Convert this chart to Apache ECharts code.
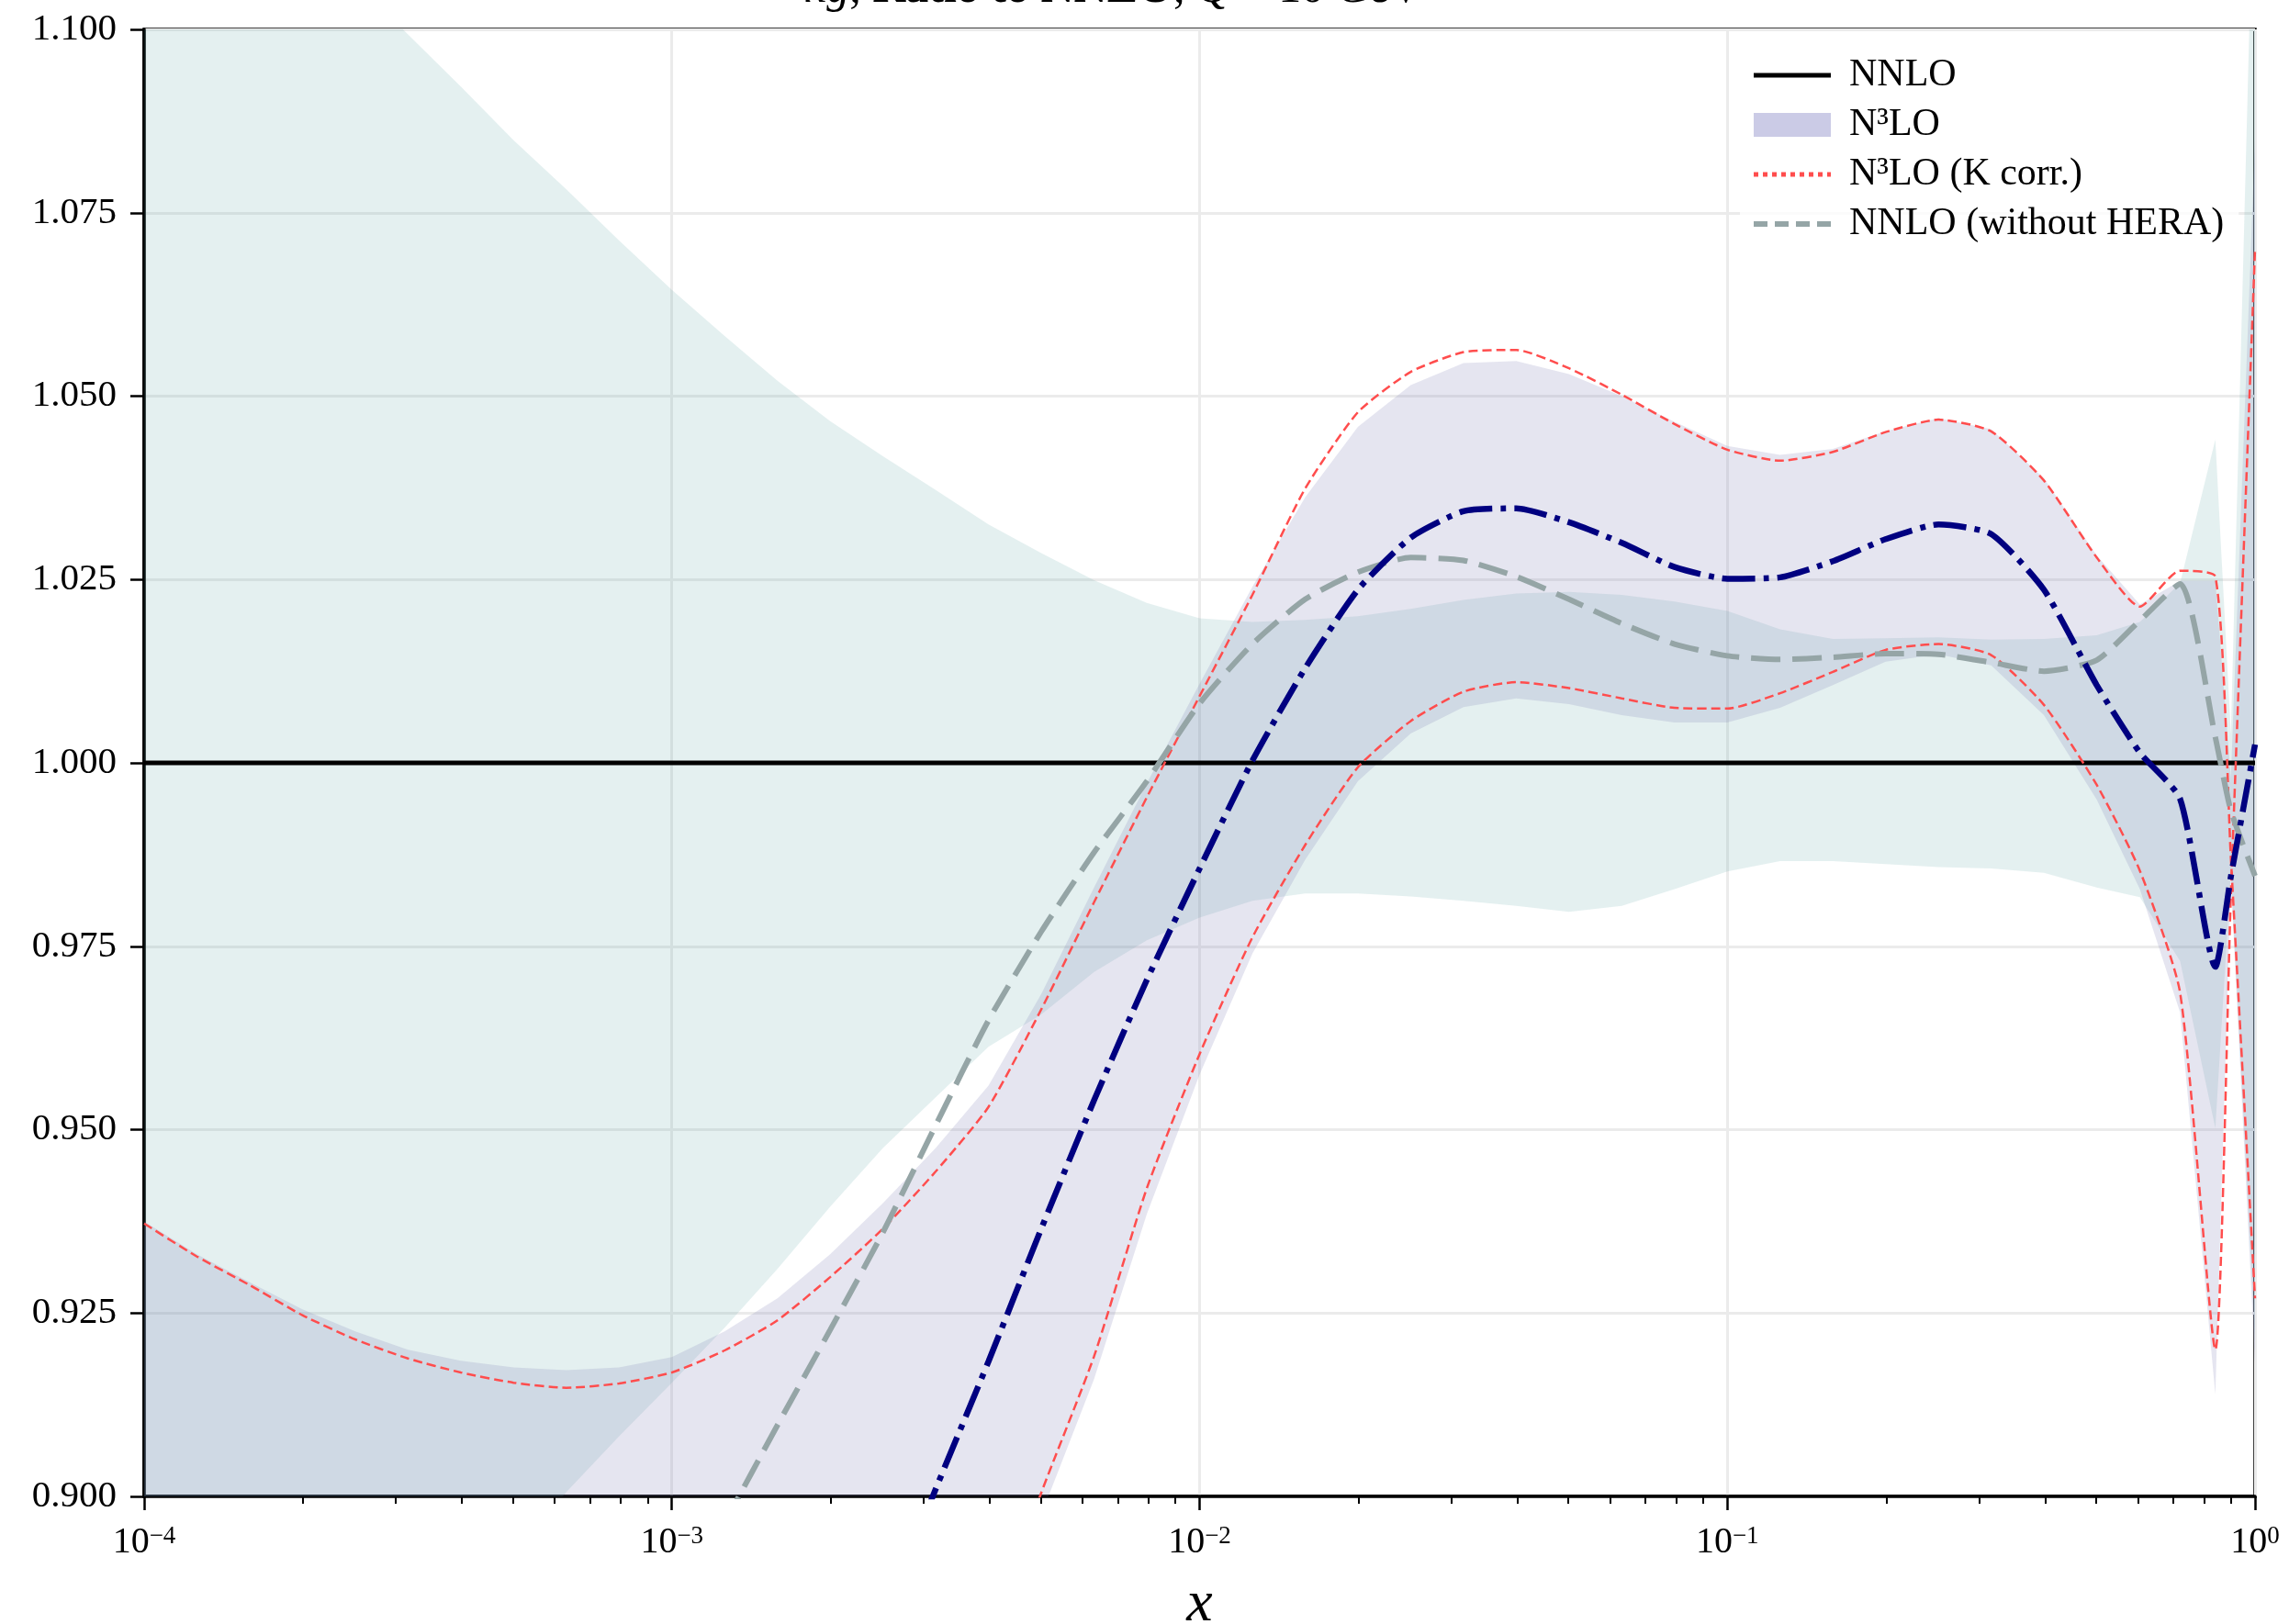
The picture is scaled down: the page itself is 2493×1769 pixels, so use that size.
<!DOCTYPE html>
<html><head><meta charset="utf-8">
<script src="https://cdn.jsdelivr.net/npm/echarts@6/dist/echarts.min.js"></script>
<style>html,body{margin:0;padding:0;background:#fff}#c{width:2493px;height:1769px}</style>
</head><body><div id="c"></div>
<script>
// x grid (momentum fraction)
const xGrid = [
  1.000e-4, 1.259e-4, 1.585e-4, 1.995e-4, 2.512e-4, 3.162e-4, 3.981e-4, 5.012e-4, 6.310e-4, 7.943e-4,
  1.000e-3, 1.259e-3, 1.585e-3, 1.995e-3, 2.512e-3, 3.162e-3, 3.981e-3, 5.012e-3, 6.310e-3, 7.943e-3,
  1.000e-2, 1.259e-2, 1.585e-2, 1.995e-2, 2.512e-2, 3.162e-2, 3.981e-2, 5.012e-2, 6.310e-2, 7.943e-2,
  0.1000, 0.1259, 0.1585, 0.1995, 0.2512, 0.3162, 0.3981, 0.5012,
  0.605, 0.721, 0.841, 0.900, 1.000
];
// NNLO reference (ratio = 1)
const nnloX = [1e-4, 1.0];
const nnloRatio = [1.0, 1.0];
// N3LO central value (dash-dot)
const n3loCentral = [
  null, null, null, null, null, null, null, null, null, null,
  null, null, null, null, 0.883, 0.901, 0.9184, 0.9365, 0.954, 0.9704,
  0.9856, 1.0003, 1.0129, 1.0236, 1.0307, 1.0343, 1.0347, 1.0328, 1.0300, 1.0267,
  1.0251, 1.0253, 1.0275, 1.0305, 1.0325, 1.0312, 1.0236, 1.0106,
  1.0014, 0.9951, 0.9722, 0.9845, 1.0025
];
// N3LO uncertainty band
const n3loLow = [
  0.85, 0.85, 0.85, 0.85, 0.85, 0.85, 0.85, 0.85, 0.85, 0.85,
  0.85, 0.85, 0.85, 0.85, 0.85, 0.862, 0.880, 0.8975, 0.916, 0.9385,
  0.9575, 0.9740, 0.9868, 0.9975, 1.0040, 1.0076, 1.0088, 1.0080, 1.0065, 1.0055,
  1.0055, 1.0075, 1.0106, 1.0138, 1.0148, 1.0133, 1.0065, 0.9950,
  0.9828, 0.9660, 0.9139, 0.9840, 0.918
];
const n3loHigh = [
  0.9375, 0.9330, 0.9292, 0.9255, 0.9225, 0.9200, 0.9185, 0.9176, 0.9172, 0.9176,
  0.9190, 0.9225, 0.9270, 0.9330, 0.9400, 0.9475, 0.9560, 0.9685, 0.9830, 0.9972,
  1.0108, 1.0240, 1.0362, 1.0458, 1.0515, 1.0545, 1.0548, 1.0530, 1.0500, 1.0465,
  1.0432, 1.0420, 1.0428, 1.0452, 1.0470, 1.0455, 1.0388, 1.0283,
  1.0216, 1.0248, 1.0248, 0.9980, 1.085
];
// N3LO (K corr.) bounds
const kcorrUpper = [
  0.9372, 0.9327, 0.9288, 0.9247, 0.9214, 0.9188, 0.9169, 0.9155, 0.9148, 0.9154,
  0.9169, 0.9199, 0.9240, 0.9299, 0.9365, 0.9443, 0.9531, 0.9664, 0.9810, 0.9953,
  1.0091, 1.0229, 1.0374, 1.0478, 1.0533, 1.0560, 1.0563, 1.0538, 1.0502, 1.0462,
  1.0427, 1.0412, 1.0424, 1.0451, 1.0468, 1.0452, 1.0385, 1.0280,
  1.0213, 1.0262, 1.0254, 0.9870, 0.9270
];
const kcorrLower = [
  null, null, null, null, null, null, null, null, null, null,
  null, null, null, null, null, null, 0.880, 0.9005, 0.9191, 0.9420,
  0.9603, 0.9762, 0.9888, 0.9994, 1.0057, 1.0097, 1.0110, 1.0102, 1.0088, 1.0075,
  1.0074, 1.0095, 1.0124, 1.0154, 1.0162, 1.0147, 1.0079, 0.9970,
  0.9853, 0.9687, 0.9200, 0.9820, 1.0700
];
// NNLO (without HERA) central and band
const noHeraCentral = [
  null, null, null, null, null, null, null, null, null, null,
  null, 0.8964, 0.9097, 0.9227, 0.9360, 0.9506, 0.9649, 0.9770, 0.9878, 0.9975,
  1.0081, 1.0162, 1.0223, 1.0260, 1.0280, 1.0276, 1.0254, 1.0223, 1.0190, 1.0162,
  1.0146, 1.0141, 1.0144, 1.0149, 1.0148, 1.0137, 1.0125, 1.0140,
  1.0194, 1.0244, 1.0035, 0.9935, 0.9846
];
const noHeraLow = [
  0.836, 0.844, 0.852, 0.860, 0.868, 0.876, 0.884, 0.892, 0.9006, 0.9082,
  0.9155, 0.9230, 0.9310, 0.9395, 0.9475, 0.9544, 0.9613, 0.9657, 0.9715, 0.9758,
  0.9789, 0.9812, 0.9822, 0.9822, 0.9818, 0.9812, 0.9805, 0.9797, 0.9805, 0.9828,
  0.9852, 0.9866, 0.9866, 0.9862, 0.9858, 0.9856, 0.9850, 0.9830,
  0.9817, 0.9730, 0.9502, 0.9850, 0.921
];
const noHeraHigh = [
  1.135, 1.128, 1.121, 1.1135, 1.1065, 1.0993, 1.0922, 1.0849, 1.0782, 1.0712,
  1.0645, 1.0582, 1.0521, 1.0466, 1.0418, 1.0372, 1.0325, 1.0286, 1.0249, 1.0218,
  1.0197, 1.0192, 1.0195, 1.0200, 1.0210, 1.0222, 1.0231, 1.0233, 1.0229, 1.0220,
  1.0207, 1.0182, 1.0169, 1.0170, 1.0171, 1.0168, 1.0169, 1.0174,
  1.0192, 1.0245, 1.0441, 1.0040, 1.130
];
// axis ticks
const yTickLabels = [0.900, 0.925, 0.950, 0.975, 1.000, 1.025, 1.050, 1.075, 1.100];
const minorTicks = [
  2e-4,3e-4,4e-4,5e-4,6e-4,7e-4,8e-4,9e-4,
  2e-3,3e-3,4e-3,5e-3,6e-3,7e-3,8e-3,9e-3,
  2e-2,3e-2,4e-2,5e-2,6e-2,7e-2,8e-2,9e-2,
  0.2,0.3,0.4,0.5,0.6,0.7,0.8,0.9
];

const SERIF = 'Liberation Serif';
const NOSYM = { color: 'rgba(0,0,0,0)', borderColor: 'rgba(0,0,0,0)', borderWidth: 0, opacity: 0 };

function pairs(xs, ys) {
  const out = [];
  for (let i = 0; i < xs.length; i++) if (ys[i] !== null) out.push([xs[i], ys[i]]);
  return out;
}
function bandSeries(name, lo, hi, fill, legendColor) {
  const data = xGrid.map((x, i) => [x, lo[i], hi[i]]);
  return {
    type: 'custom', name: name, data: data, clip: true, silent: true, z: 1,
    itemStyle: { color: legendColor },
    encode: { x: 0, y: [1, 2] },
    renderItem: function (params, api) {
      if (params.dataIndex !== 0) return;
      const top = [], bot = [];
      for (let i = 0; i < data.length; i++) {
        top.push(api.coord([data[i][0], data[i][2]]));
        bot.push(api.coord([data[i][0], data[i][1]]));
      }
      const cs = params.coordSys;
      return {
        type: 'group',
        clipPath: { type: 'rect', shape: { x: cs.x, y: cs.y, width: cs.width, height: cs.height } },
        children: [{ type: 'polygon', shape: { points: top.concat(bot.reverse()) }, style: { fill: fill } }]
      };
    }
  };
}
function lineSeries(name, ys, z, color, width, dash) {
  return {
    type: 'line', name: name, data: pairs(xGrid, ys), symbol: 'none', z: z,
    smooth: 0.2,
    lineStyle: { color: color, width: width, type: dash }, itemStyle: { color: color }
  };
}

const chart = echarts.init(document.getElementById('c'), null, { renderer: 'canvas' });
chart.setOption({
  animation: false,
  backgroundColor: '#fff',
  title: {
    text: '{i|xg}, {b|Ratio to NNLO}, {i|Q} = 10 GeV',
    left: 878, top: -36, padding: 0,
    textStyle: {
      fontFamily: SERIF, fontSize: 50, fontWeight: 'normal', color: '#000',
      rich: {
        i: { fontFamily: SERIF, fontSize: 50, fontStyle: 'italic', color: '#000' },
        b: { fontFamily: SERIF, fontSize: 50, fontWeight: 'bold', color: '#000' }
      }
    }
  },
  grid: {
    left: 157, right: 37, top: 32, bottom: 139, show: true,
    borderColor: '#000', borderWidth: 3.5, backgroundColor: 'transparent',
    containLabel: false, outerBoundsMode: 'none'
  },
  legend: {
    orient: 'vertical', left: 1895, top: 48,
    itemWidth: 84, itemHeight: 26, itemGap: 10,
    padding: [12, 16, 12, 12],
    backgroundColor: 'rgba(255,255,255,0.8)',
    selectedMode: false,
    textStyle: { fontFamily: SERIF, fontSize: 42, color: '#000', lineHeight: 44, padding: [0, 0, 0, 15] },
    data: [
      { name: 'NNLO', itemStyle: NOSYM, lineStyle: { color: '#000', width: 5, type: 'solid' } },
      { name: 'N³LO', icon: 'rect' },
      { name: 'N³LO (K corr.)', itemStyle: NOSYM, lineStyle: { color: '#ff4d4d', type: [5, 5], width: 5 } },
      { name: 'NNLO (without HERA)', itemStyle: NOSYM, lineStyle: { color: '#95a5a6', type: [15, 8], width: 6 } }
    ]
  },
  xAxis: [{
    type: 'log', logBase: 10, min: 1e-4, max: 1,
    axisLine: { show: true, lineStyle: { color: '#000', width: 3.5 } },
    axisTick: { show: true, length: 15, lineStyle: { color: '#000', width: 2.5 } },
    minorTick: { show: false },
    splitLine: { show: true, lineStyle: { color: '#ebebeb', width: 3 } },
    axisLabel: {
      margin: 30, color: '#000',
      formatter: function (v) {
        const e = Math.round(Math.log10(v));
        return '{b|10}{s|' + (e < 0 ? '\u2212' : '') + Math.abs(e) + '}';
      },
      rich: {
        b: { fontFamily: SERIF, fontSize: 40, color: '#000' },
        s: { fontFamily: SERIF, fontSize: 27, color: '#000', verticalAlign: 'top' }
      }
    },
    name: 'x', nameLocation: 'middle', nameGap: 86,
    nameTextStyle: { fontFamily: SERIF, fontStyle: 'italic', fontSize: 64, color: '#000' }
  }, {
    type: 'log', logBase: 10, min: 1e-4, max: 1, position: 'bottom',
    axisLine: { show: false },
    axisLabel: { show: false },
    splitLine: { show: false },
    axisTick: { show: true, length: 8, lineStyle: { color: '#000', width: 2 }, customValues: minorTicks }
  }],
  yAxis: {
    type: 'value', min: 0.9, max: 1.1, interval: 0.025,
    axisLine: { show: true, lineStyle: { color: '#000', width: 3.5 } },
    axisTick: { show: true, length: 15, lineStyle: { color: '#000', width: 2.5 } },
    splitLine: { show: true, lineStyle: { color: '#ebebeb', width: 3 } },
    axisLabel: {
      margin: 30, fontFamily: SERIF, fontSize: 41, color: '#000',
      customValues: yTickLabels,
      formatter: function (v) { return Number(v).toFixed(3); }
    }
  },
  series: [
    bandSeries('NNLO (without HERA) band', noHeraLow, noHeraHigh, 'rgba(75,155,155,0.15)', '#cfe3e3'),
    bandSeries('N³LO', n3loLow, n3loHigh, 'rgba(125,125,180,0.2)', '#cbcbe6'),
    {
      type: 'line', name: 'NNLO', data: pairs(nnloX, nnloRatio), symbol: 'none', z: 3,
      lineStyle: { color: '#000', width: 5 }, itemStyle: { color: '#000' }
    },
    lineSeries('N³LO (K corr.)', kcorrUpper, 4, '#ff4d4d', 2.5, [10, 5]),
    lineSeries('N³LO (K corr.)', kcorrLower, 4, '#ff4d4d', 2.5, [10, 5]),
    lineSeries('NNLO (without HERA)', noHeraCentral, 5, '#95a5a6', 6, [32, 13]),
    lineSeries('N³LO central', n3loCentral, 6, '#000080', 6.5, [36, 9, 6, 9])
  ]
});
</script></body></html>
